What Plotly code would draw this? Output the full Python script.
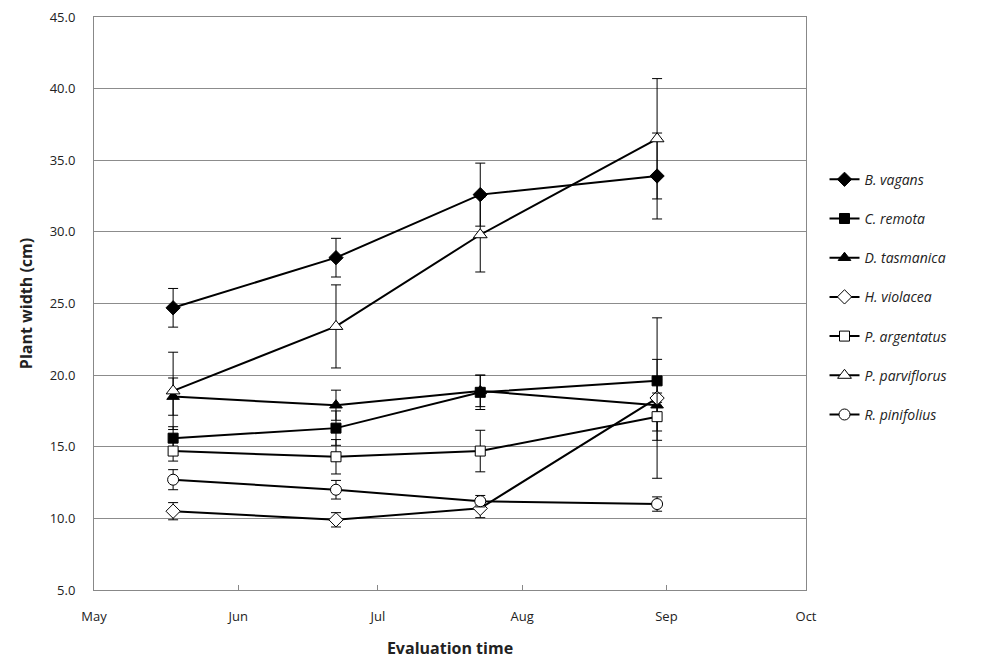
import plotly.graph_objects as go

dates = ["2010-05-18", "2010-06-22", "2010-07-23", "2010-08-30"]

species = ["B. vagans", "C. remota", "D. tasmanica", "H. violacea",
           "P. argentatus", "P. parviflorus", "R. pinifolius"]

b_vagans = [24.7, 28.2, 32.6, 33.9]
b_vagans_err = [1.35, 1.35, 2.2, 3.0]
c_remota = [15.6, 16.3, 18.8, 19.6]
c_remota_err = [0.8, 1.2, 1.2, 1.5]
d_tasmanica = [18.5, 17.9, 18.9, 17.9]
d_tasmanica_err = [1.3, 1.05, 1.1, 1.8]
h_violacea = [10.5, 9.9, 10.7, 18.4]
h_violacea_err = [0.6, 0.5, 0.65, 5.6]
p_argentatus = [14.7, 14.3, 14.7, 17.1]
p_argentatus_err = [0.7, 1.2, 1.45, 1.65]
p_parviflorus = [18.9, 23.4, 29.8, 36.5]
p_parviflorus_err = [2.7, 2.9, 2.6, 4.2]
r_pinifolius = [12.7, 12.0, 11.2, 11.0]
r_pinifolius_err = [0.7, 0.65, 0.4, 0.5]

values = [b_vagans, c_remota, d_tasmanica, h_violacea, p_argentatus, p_parviflorus, r_pinifolius]
errors = [b_vagans_err, c_remota_err, d_tasmanica_err, h_violacea_err,
          p_argentatus_err, p_parviflorus_err, r_pinifolius_err]

symbols = ["diamond", "square", "triangle-up", "diamond", "square", "triangle-up", "circle"]
fills = ["black", "black", "black", "white", "white", "white", "white"]
sizes = [11, 10, 11, 11, 10, 12, 11]

fig = go.Figure()
for i, name in enumerate(species):
    fig.add_trace(go.Scatter(
        x=dates, y=values[i], name=name, mode="lines+markers",
        legendgroup=name,
        line=dict(color="black", width=2),
        marker=dict(symbol=symbols[i], size=sizes[i], color=fills[i],
                    line=dict(color="black", width=1)),
        error_y=dict(type="data", array=errors[i], visible=True,
                     color="black", thickness=1, width=5),
    ))

fig.update_layout(
    width=989, height=665,
    margin=dict(l=86, r=191, t=9, b=83, autoexpand=False),
    paper_bgcolor="white", plot_bgcolor="white",
    font=dict(family="Open Sans", size=13, color="#222"),
    showlegend=True,
    legend=dict(x=1.026, y=0.744, xanchor="left", yanchor="top",
                itemwidth=30,
                font=dict(size=14, family="Open Sans", style="italic", color="#222"),
                tracegroupgap=18, bgcolor="rgba(0,0,0,0)"),
    xaxis=dict(
        type="date", range=["2010-05-01", "2010-10-01"],
        dtick="M1", tick0="2010-05-01", tickformat="%b",
        ticks="inside", ticklen=5, tickcolor="#888",
        ticklabelstandoff=14, automargin=False, ticklabeloverflow="allow",
        showgrid=False, showline=True, linecolor="#888", linewidth=1, mirror=True,
        tickfont=dict(size=13, color="#222"),
        title=dict(text="<b>Evaluation time</b>", font=dict(size=16, color="#222"), standoff=19),
    ),
    yaxis=dict(
        range=[5, 45], dtick=5, tickformat=".1f",
        showgrid=True, gridcolor="#8c8c8c", gridwidth=1,
        showline=True, linecolor="#888", linewidth=1, mirror=True,
        ticks="", zeroline=False, automargin=False, ticklabeloverflow="allow",
        ticklabelstandoff=15,
        tickfont=dict(size=13, color="#222"),
        title=dict(text="<b>Plant width (cm)</b>", font=dict(size=16, color="#222"), standoff=13),
    ),
)

fig.write_html("out.html")
